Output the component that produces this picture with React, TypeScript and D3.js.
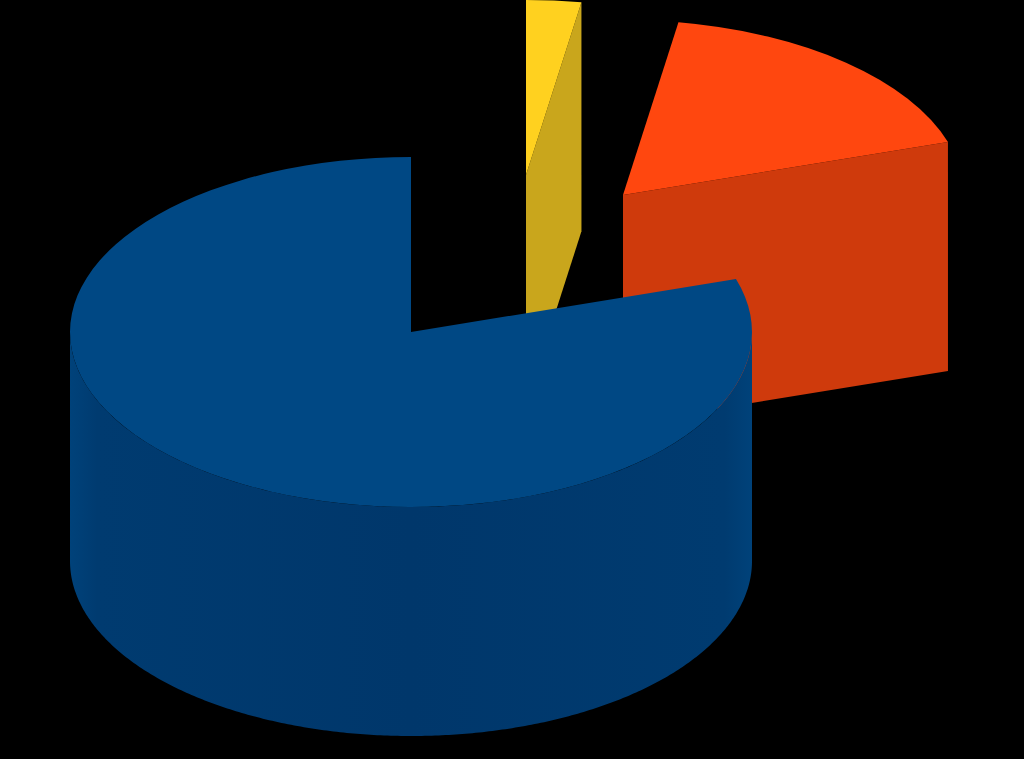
import React, { useEffect, useRef } from 'react';
import * as d3 from 'd3';

const WIDTH = 1024;
const HEIGHT = 759;

// slices in clockwise order from 12 o'clock (share of the pie, %)
const sliceNames = ['Yellow', 'Red', 'Blue'];
const sliceValues = [2.6, 17.5, 79.9];
const topColors = ['#ffd11f', '#ff470f', '#004884'];
const sideColors = ['#c9a61c', '#cf3a0c', '#00376b'];

// where each slice's apex ends up after being pulled out of the pie
const apexX = [526, 623, 411];
const apexY = [175, 195, 332];

const RX = 341;
const RY = 175;
const DEPTH = 229;

const App: React.FC = () => {
  const svgRef = useRef<SVGSVGElement>(null);

  useEffect(() => {
    if (!svgRef.current) return;

    const svg = d3.select(svgRef.current);
    svg.selectAll('*').remove();

    // Background
    svg.append('rect').attr('width', WIDTH).attr('height', HEIGHT).attr('fill', '#000');

    // Lighter rim on the round wall
    const grad = svg.append('defs').append('linearGradient')
      .attr('id', 'wall')
      .attr('x1', 0).attr('x2', 1).attr('y1', 0).attr('y2', 0);
    grad.append('stop').attr('offset', 0).attr('stop-color', '#00427a');
    grad.append('stop').attr('offset', 0.04).attr('stop-color', '#003b70');
    grad.append('stop').attr('offset', 0.5).attr('stop-color', '#00376b');
    grad.append('stop').attr('offset', 0.96).attr('stop-color', '#003b70');
    grad.append('stop').attr('offset', 1).attr('stop-color', '#00427a');

    const pie = d3.pie<number>().sort(null).value(d => d);
    const slices = pie(sliceValues);

    const arc = d3.arc<d3.PieArcDatum<number>>().innerRadius(0).outerRadius(RX);

    slices.forEach((s, i) => {
      const g = svg.append('g')
        .attr('class', sliceNames[i])
        .attr('transform', `translate(${apexX[i]},${apexY[i]})`);

      // Cut face along the end angle, only when it looks at the viewer
      if (Math.sin(s.endAngle) > 0.001) {
        const ex = RX * Math.sin(s.endAngle);
        const ey = -RY * Math.cos(s.endAngle);
        g.append('path')
          .attr('d', `M0,0L${ex},${ey}L${ex},${ey + DEPTH}L0,${DEPTH}Z`)
          .attr('fill', sideColors[i]);
      }

      // Round wall, only the front half of the pie is visible
      const a0 = Math.max(s.startAngle, Math.PI / 2);
      const a1 = Math.min(s.endAngle, (3 * Math.PI) / 2);
      if (a1 > a0) {
        const wall = d3.area<number>()
          .x(a => RX * Math.sin(a))
          .y0(a => -RY * Math.cos(a))
          .y1(a => -RY * Math.cos(a) + DEPTH);
        g.append('path')
          .attr('d', wall(d3.range(a0, a1, 0.01).concat(a1)))
          .attr('fill', 'url(#wall)');
      }

      // Top
      g.append('path')
        .attr('d', arc(s))
        .attr('transform', `scale(1,${RY / RX})`)
        .attr('fill', topColors[i]);
    });
  }, []);

  return (
    <svg
      ref={svgRef}
      width={WIDTH}
      height={HEIGHT}
      style={{ position: 'absolute', left: 0, top: 0, display: 'block' }}
    />
  );
};

export default App;
